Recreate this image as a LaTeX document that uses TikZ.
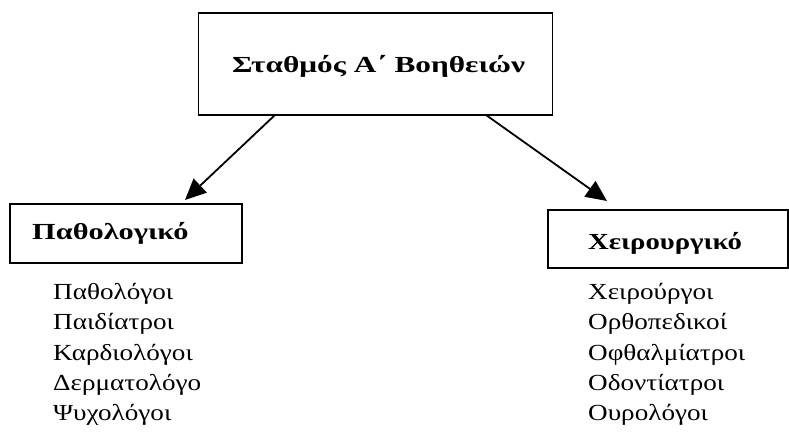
\documentclass[tikz,border=0pt]{standalone}
\usepackage{fontspec}
\usepackage{graphicx}
\setmainfont{Liberation Serif}
\usetikzlibrary{arrows.meta}
\begin{document}
\begin{tikzpicture}[x=1pt,y=-1pt,
  boxstyle/.style={draw, line width=1.3pt, inner sep=0pt},
  boldtext/.style={font=\fontsize{23}{26}\selectfont\bfseries, anchor=base west, inner sep=0pt},
  itemtext/.style={font=\fontsize{23}{26}\selectfont, anchor=base west, inner sep=0pt},
  arrowstyle/.style={line width=1.8pt, -{Triangle[length=21pt,width=19pt]}}]
\useasboundingbox (0,0) rectangle (789,443);
\node[boxstyle, minimum width=354pt, minimum height=102pt] (top) at (375.5,64) {};
\node[boldtext] (toptext) at (232,73) {\scalebox{1.36}[1]{Σταθμός Α΄ Βοηθειών}};
\node[boxstyle, minimum width=232pt, minimum height=59pt] (left) at (126,233.5) {};
\node[boldtext] (lefttext) at (32,240) {\scalebox{1.32}[1]{Παθολογικό}};
\node[boxstyle, minimum width=240pt, minimum height=58pt] (right) at (668,239) {};
\node[boldtext] (righttext) at (588,250) {\scalebox{1.25}[1]{Χειρουργικό}};
\node[itemtext] (l1) at (53,300) {\scalebox{1.18}[1]{Παθολόγοι}};
\node[itemtext] (l2) at (53,330) {\scalebox{1.18}[1]{Παιδίατροι}};
\node[itemtext] (l3) at (53,360) {\scalebox{1.18}[1]{Καρδιολόγοι}};
\node[itemtext] (l4) at (53,390) {\scalebox{1.18}[1]{Δερματολόγο}};
\node[itemtext] (l5) at (53,420) {\scalebox{1.18}[1]{Ψυχολόγοι}};
\node[itemtext] (r1) at (588,300) {\scalebox{1.18}[1]{Χειρούργοι}};
\node[itemtext] (r2) at (588,330) {\scalebox{1.18}[1]{Ορθοπεδικοί}};
\node[itemtext] (r3) at (588,360) {\scalebox{1.18}[1]{Οφθαλμίατροι}};
\node[itemtext] (r4) at (588,390) {\scalebox{1.18}[1]{Οδοντίατροι}};
\node[itemtext] (r5) at (588,420) {\scalebox{1.18}[1]{Ουρολόγοι}};
\coordinate (a1s) at (275,115);
\coordinate (a1e) at (185,200);
\coordinate (a2s) at (486,115);
\coordinate (a2e) at (607,201);
\draw[arrowstyle] (a1s) -- (a1e);
\draw[arrowstyle] (a2s) -- (a2e);
\end{tikzpicture}
\end{document}
